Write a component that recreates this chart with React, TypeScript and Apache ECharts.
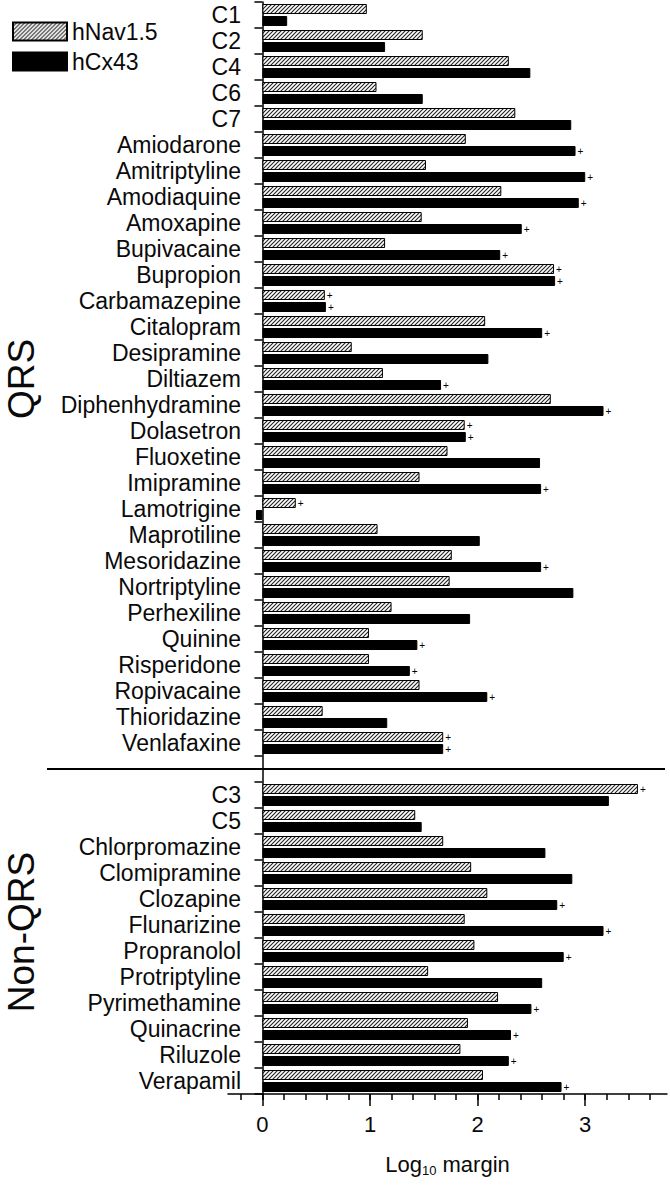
import React, { useEffect, useRef } from 'react';
import * as echarts from 'echarts';

const qrsCategories = [
  'C1', 'C2', 'C4', 'C6', 'C7', 'Amiodarone', 'Amitriptyline', 'Amodiaquine', 'Amoxapine',
  'Bupivacaine', 'Bupropion', 'Carbamazepine', 'Citalopram', 'Desipramine', 'Diltiazem',
  'Diphenhydramine', 'Dolasetron', 'Fluoxetine', 'Imipramine', 'Lamotrigine', 'Maprotiline',
  'Mesoridazine', 'Nortriptyline', 'Perhexiline', 'Quinine', 'Risperidone', 'Ropivacaine',
  'Thioridazine', 'Venlafaxine',
];
const nonQrsCategories = [
  'C3', 'C5', 'Chlorpromazine', 'Clomipramine', 'Clozapine', 'Flunarizine', 'Propranolol',
  'Protriptyline', 'Pyrimethamine', 'Quinacrine', 'Riluzole', 'Verapamil',
];

const qrsNav = [
  0.97, 1.49, 2.29, 1.06, 2.35, 1.89, 1.52, 2.22, 1.48, 1.14, 2.71, 0.58, 2.07, 0.83, 1.12,
  2.68, 1.88, 1.72, 1.46, 0.31, 1.07, 1.76, 1.74, 1.2, 0.99, 0.99, 1.46, 0.56, 1.68,
];
const qrsCx = [
  0.23, 1.14, 2.49, 1.49, 2.87, 2.91, 3.0, 2.94, 2.41, 2.21, 2.72, 0.59, 2.6, 2.1, 1.66,
  3.17, 1.89, 2.58, 2.59, -0.06, 2.02, 2.59, 2.89, 1.93, 1.44, 1.37, 2.09, 1.16, 1.68,
];
const nonQrsNav = [3.49, 1.42, 1.68, 1.94, 2.09, 1.88, 1.97, 1.54, 2.19, 1.91, 1.84, 2.05];
const nonQrsCx = [3.22, 1.48, 2.63, 2.88, 2.74, 3.17, 2.8, 2.6, 2.5, 2.31, 2.29, 2.78];

const plusNav = ['Bupropion', 'Carbamazepine', 'Dolasetron', 'Lamotrigine', 'Venlafaxine', 'C3'];
const plusCx = [
  'Amiodarone', 'Amitriptyline', 'Amodiaquine', 'Amoxapine', 'Bupivacaine', 'Bupropion',
  'Carbamazepine', 'Citalopram', 'Diltiazem', 'Diphenhydramine', 'Dolasetron', 'Imipramine',
  'Mesoridazine', 'Quinine', 'Risperidone', 'Ropivacaine', 'Venlafaxine', 'Clozapine',
  'Flunarizine', 'Propranolol', 'Pyrimethamine', 'Quinacrine', 'Riluzole', 'Verapamil',
];

const minorTicks = [
  -0.2, 0, 0.2, 0.4, 0.6, 0.8, 1, 1.2, 1.4, 1.6, 1.8, 2, 2.2, 2.4, 2.6, 2.8, 3, 3.2, 3.4, 3.6,
];
const majorTicks = [0, 1, 2, 3];

const GAP = ' ';
const FONT = '"Liberation Sans", Arial, sans-serif';

function makeHatch(): HTMLCanvasElement {
  const c = document.createElement('canvas');
  c.width = 4;
  c.height = 4;
  const ctx = c.getContext('2d')!;
  ctx.fillStyle = '#fff';
  ctx.fillRect(0, 0, 4, 4);
  ctx.strokeStyle = '#222';
  ctx.lineWidth = 1.1;
  ctx.beginPath();
  ctx.moveTo(-1, 5);
  ctx.lineTo(5, -1);
  ctx.moveTo(-1, 1);
  ctx.lineTo(1, -1);
  ctx.moveTo(3, 5);
  ctx.lineTo(5, 3);
  ctx.stroke();
  return c;
}

export default function App() {
  const ref = useRef<HTMLDivElement>(null);

  useEffect(() => {
    if (!ref.current) return;
    const chart = echarts.init(ref.current, null, { renderer: 'svg' });
    const categories = [...qrsCategories, GAP, ...nonQrsCategories];
    const navData = [...qrsNav, null, ...nonQrsNav];
    const cxData = [...qrsCx, null, ...nonQrsCx];
    const hatch = makeHatch();

    const axisColor = '#000';
    const textColor = '#0a0a0a';

    chart.setOption({
      animation: false,
      textStyle: { fontFamily: FONT },
      legend: {
        orient: 'vertical',
        left: 7,
        top: 15,
        itemWidth: 54,
        itemHeight: 18,
        itemGap: 7,
        icon: 'rect',
        textStyle: { fontSize: 23, color: textColor, fontFamily: FONT },
        data: ['hNav1.5', 'hCx43'],
      },
      grid: { left: 228, right: 3, top: 2, bottom: 92, containLabel: false },
      xAxis: [
        {
          type: 'value',
          min: -0.32,
          max: 3.76,
          position: 'bottom',
          axisLine: { show: true, lineStyle: { color: axisColor, width: 1.5 } },
          axisTick: { show: true, customValues: minorTicks, length: 6, lineStyle: { color: axisColor, width: 1.5 } },
          axisLabel: { show: false },
          splitLine: { show: false },
          name: '{a|Log}{b|10}{a| margin}',
          nameLocation: 'middle',
          nameGap: 58,
          nameTextStyle: {
            rich: {
              a: { fontSize: 22, color: textColor, fontFamily: FONT },
              b: { fontSize: 13, color: textColor, fontFamily: FONT, padding: [12, 0, 0, 0] },
            },
          },
        },
        {
          type: 'value',
          min: -0.32,
          max: 3.76,
          position: 'bottom',
          axisLine: { show: false },
          axisTick: { show: true, customValues: majorTicks, length: 12, lineStyle: { color: axisColor, width: 1.5 } },
          axisLabel: { show: true, customValues: majorTicks, fontSize: 22, margin: 19, color: textColor, fontFamily: FONT },
          splitLine: { show: false },
        },
      ],
      yAxis: {
        type: 'category',
        inverse: true,
        data: categories,
        axisLine: { show: true, onZero: true, lineStyle: { color: axisColor, width: 1.5 } },
        axisTick: { show: true, interval: 0, length: 8, lineStyle: { color: axisColor, width: 1.5 } },
        axisLabel: { interval: 0, fontSize: 23, margin: -13, color: textColor, fontFamily: FONT },
      },
      series: [
        {
          name: 'hNav1.5',
          type: 'bar',
          data: navData,
          barWidth: 10,
          barGap: '20%',
          itemStyle: {
            color: { image: hatch, repeat: 'repeat', imageWidth: 4, imageHeight: 4 },
            borderColor: '#000',
            borderWidth: 1,
          },
          label: {
            show: true,
            position: 'right',
            distance: 2,
            fontSize: 10,
            color: '#000',
            formatter: (p: any) => (plusNav.includes(p.name) ? '+' : ''),
          },
        },
        {
          name: 'hCx43',
          type: 'bar',
          data: cxData,
          barWidth: 10,
          itemStyle: { color: '#000', borderColor: '#000', borderWidth: 1 },
          label: {
            show: true,
            position: 'right',
            distance: 2,
            fontSize: 10,
            color: '#000',
            formatter: (p: any) => (plusCx.includes(p.name) ? '+' : ''),
          },
        },
      ],
    });

    const yOf = (c: string) => chart.convertToPixel({ yAxisIndex: 0 }, c) as number;
    const gapY = yOf(GAP);
    const qrsMid = (yOf(qrsCategories[0]) + yOf(qrsCategories[qrsCategories.length - 1])) / 2;
    const nonMid = (yOf(nonQrsCategories[0]) + yOf(nonQrsCategories[nonQrsCategories.length - 1])) / 2;

    chart.setOption({
      graphic: [
        {
          type: 'line',
          shape: { x1: 47, y1: gapY, x2: 665, y2: gapY },
          style: { stroke: '#000', lineWidth: 2.2 },
        },
        {
          type: 'text',
          x: 21,
          y: qrsMid,
          rotation: Math.PI / 2,
          style: { text: 'QRS', fontSize: 37, fontFamily: FONT, fill: textColor, align: 'center', verticalAlign: 'middle' },
        },
        {
          type: 'text',
          x: 21,
          y: nonMid - 6,
          rotation: Math.PI / 2,
          style: { text: 'Non-QRS', fontSize: 37, fontFamily: FONT, fill: textColor, align: 'center', verticalAlign: 'middle' },
        },
      ],
    });

    return () => chart.dispose();
  }, []);

  return <div ref={ref} style={{ width: 670, height: 1186, position: 'absolute', left: 0, top: 0 }} />;
}
